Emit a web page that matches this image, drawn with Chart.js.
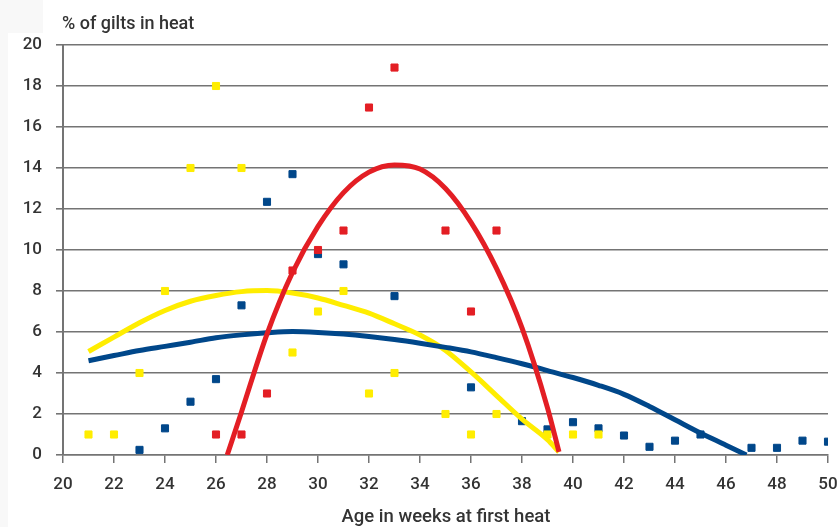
<!DOCTYPE html>
<html>
<head>
<meta charset="utf-8">
<script src="https://cdn.jsdelivr.net/npm/chart.js@4/dist/chart.umd.min.js"></script>
<style>
  html, body { margin: 0; padding: 0; background: #fff; }
  #wrap { width: 837px; height: 527px; position: relative; }
</style>
</head>
<body>
<div id="wrap"><canvas id="heatChart" width="837" height="527"></canvas></div>
<script>
const yellowWeeks = [21, 22, 23, 24, 25, 26, 27, 29, 30, 31, 32, 33, 35, 36, 37, 39, 40, 41];
const yellowPct   = [1, 1, 4, 8, 14, 18, 14, 5, 7, 8, 3, 4, 2, 1, 2, 1, 1, 1];

const blueWeeks = [23, 24, 25, 26, 27, 28, 29, 30, 31, 33, 36, 38, 39, 40, 41, 42, 43, 44, 45, 47, 48, 49, 50];
const bluePct   = [0.25, 1.3, 2.6, 3.7, 7.3, 12.35, 13.7, 9.8, 9.3, 7.75, 3.3, 1.65, 1.25, 1.6, 1.3, 0.95, 0.4, 0.7, 1, 0.35, 0.35, 0.7, 0.65];

const redWeeks = [26, 27, 28, 29, 30, 31, 32, 33, 35, 36, 37];
const redPct   = [1, 1, 3, 9, 10, 10.95, 16.95, 18.9, 10.95, 7, 10.95];

// trend curves
const yellowCurveX = [21, 22, 23, 24, 25, 26, 27, 28, 29, 30, 31, 32, 33, 34, 35, 36, 37, 38, 39, 39.45];
const yellowCurveY = [5.05, 5.75, 6.45, 7.05, 7.5, 7.78, 7.97, 8.02, 7.9, 7.66, 7.3, 6.92, 6.4, 5.85, 5.1, 4.05, 2.9, 1.75, 0.75, 0.15];

const blueCurveX = [21, 22, 23, 24, 25, 26, 27, 28, 29, 30, 31, 32, 33, 34, 35, 36, 37, 38, 39, 40, 41, 42, 43, 44, 45, 46, 46.8];
const blueCurveY = [4.6, 4.85, 5.1, 5.3, 5.5, 5.72, 5.86, 5.96, 6.02, 5.98, 5.9, 5.78, 5.63, 5.45, 5.25, 5.03, 4.75, 4.45, 4.12, 3.78, 3.4, 2.96, 2.37, 1.72, 1.07, 0.48, 0];

const redCurveX = [26.44, 27, 28, 29, 30, 31, 32, 33, 34, 35, 36, 37, 38, 39, 39.45];
const redCurveY = [0, 2.1, 5.9, 8.9, 11.15, 12.8, 13.8, 14.15, 13.95, 13.0, 11.35, 9.1, 6.2, 2.3, 0.15];

const xTicks = [20, 22, 24, 26, 28, 30, 32, 34, 36, 38, 40, 42, 44, 46, 48, 50];
const yTicks = [0, 2, 4, 6, 8, 10, 12, 14, 16, 18, 20];

const YELLOW = '#ffed00';
const BLUE = '#00478a';
const RED = '#e31e24';
const GRID = '#747474';
const TEXT = '#333333';
const FONT = 'Roboto, "DejaVu Sans", sans-serif';

function toXY(xs, ys) {
  return xs.map((x, i) => ({ x: x, y: ys[i] }));
}

function pointSet(label, xs, ys, color, order) {
  return {
    label: label,
    data: toXY(xs, ys),
    backgroundColor: color,
    borderColor: color,
    borderWidth: 1,
    pointStyle: 'rect',
    pointRadius: 5,
    pointHoverRadius: 5,
    showLine: false,
    order: order
  };
}

function curveSet(label, xs, ys, color, order) {
  return {
    label: label,
    data: toXY(xs, ys),
    borderColor: color,
    borderWidth: 5,
    pointRadius: 0,
    showLine: true,
    fill: false,
    cubicInterpolationMode: 'monotone',
    order: order
  };
}

const textPlugin = {
  id: 'axisTitles',
  beforeDraw(chart) {
    const c = chart.ctx;
    c.save();
    c.fillStyle = '#ffffff';
    c.fillRect(0, 0, chart.width, chart.height);
    c.fillStyle = '#f8f8f8';
    c.fillRect(0, 0, 8, chart.height);
    c.fillRect(0, 0, 43, 33);
    c.restore();
  },
  afterDraw(chart) {
    const c = chart.ctx;
    c.save();
    c.fillStyle = TEXT;
    c.font = '500 18px ' + FONT;
    c.textBaseline = 'alphabetic';
    c.textAlign = 'left';
    c.fillText('% of gilts in heat', 62, 29);
    c.textAlign = 'center';
    c.font = '500 18.5px ' + FONT;
    c.fillText('Age in weeks at first heat', 446, 522);
    c.restore();
  }
};

new Chart(document.getElementById('heatChart').getContext('2d'), {
  type: 'scatter',
  data: {
    datasets: [
      curveSet('Red trend', redCurveX, redCurveY, RED, 0),
      curveSet('Blue trend', blueCurveX, blueCurveY, BLUE, 1),
      curveSet('Yellow trend', yellowCurveX, yellowCurveY, YELLOW, 2),
      pointSet('Red', redWeeks, redPct, RED, 3),
      pointSet('Yellow', yellowWeeks, yellowPct, YELLOW, 4),
      pointSet('Blue', blueWeeks, bluePct, BLUE, 5)
    ]
  },
  plugins: [textPlugin],
  options: {
    responsive: false,
    animation: false,
    layout: { padding: { top: 45, right: 9, left: 0, bottom: 0 } },
    plugins: {
      legend: { display: false },
      tooltip: { enabled: false }
    },
    scales: {
      x: {
        type: 'linear',
        min: 20,
        max: 50,
        afterBuildTicks(scale) { scale.ticks = xTicks.map(v => ({ value: v })); },
        afterFit(scale) {
          scale.height = 72;
          scale.paddingLeft = 0;
          scale.paddingRight = 0;
        },
        border: { color: GRID, width: 1.5 },
        grid: { drawOnChartArea: false, drawTicks: true, tickLength: 8, color: GRID, lineWidth: 1.5 },
        ticks: { color: TEXT, font: { family: FONT, size: 17, weight: '500' }, padding: 12 }
      },
      y: {
        type: 'linear',
        min: 0,
        max: 20,
        afterBuildTicks(scale) { scale.ticks = yTicks.map(v => ({ value: v })); },
        afterFit(scale) { scale.width = 63; },
        border: { color: GRID, width: 2 },
        grid: { color: GRID, lineWidth: 1.6, drawTicks: true, tickLength: 7 },
        ticks: { color: TEXT, font: { family: FONT, size: 17, weight: '500' }, padding: 14 }
      }
    }
  }
});
</script>
</body>
</html>
